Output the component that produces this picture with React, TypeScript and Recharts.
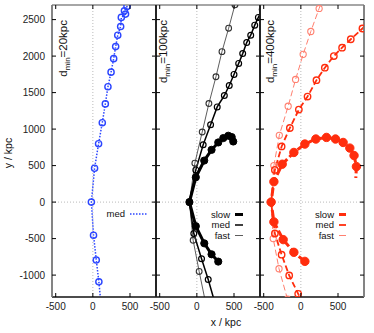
import { Line, LineChart, ReferenceLine, XAxis, YAxis } from 'recharts'

const xTicks = [-500, 0, 500]
const yTicks = [-1000, -500, 0, 500, 1000, 1500, 2000, 2500]
const xDomain = [-550, 850]
const yDomain = [-1300, 2700]

// d_min = 20 kpc
const p20MedX = [110, 81, 46, 9, -20, 23, 77, 127, 168, 203, 245, 280, 307, 335, 374, 383, 440, 425, 460, 490]
const p20MedY = [-1400, -1092, -794, -454, 0, 464, 799, 1088, 1345, 1580, 1780, 1965, 2130, 2286, 2405, 2530, 2575, 2620, 2681, 2760]

// d_min = 100 kpc
const p100SlowX = [288, 198, 100, -14, -100, -14, 99, 198, 288, 356, 423, 469, 490]
const p100SlowY = [-815, -715, -565, -330, 0, 340, 569, 716, 817, 877, 909, 891, 830]
const p100MedX = [240, 153, 63, -41, -100, -14, 85, 185, 274, 370, 436, 500, 563, 617, 671, 725, 779, 828, 880]
const p100MedY = [-1370, -1060, -776, -431, 0, 441, 785, 1060, 1304, 1460, 1597, 1749, 1900, 2034, 2185, 2286, 2424, 2530, 2640]
const p100FastX = [120, 31, -50, -100, -27, 72, 162, 257, 338, 428, 513, 600]
const p100FastY = [-1390, -950, -523, 0, 533, 960, 1350, 1717, 2061, 2382, 2703, 3010]

// d_min = 400 kpc
const p400SlowX = [54, -94, -238, -363, -400, -363, -251, -94, 54, 202, 345, 466, 569, 659, 716, 748, 740]
const p400SlowY = [-812, -688, -514, -271, 0, 280, 519, 680, 795, 864, 886, 864, 817, 740, 638, 486, 330]
const p400MedX = [85, -36, -157, -259, -350, -400, -350, -259, -148, -27, 90, 210, 323, 444, 555, 672, 829, 900]
const p400MedY = [-1500, -1257, -1005, -720, -430, 0, 441, 762, 1015, 1267, 1446, 1670, 1841, 2001, 2116, 2231, 2378, 2450]
const p400FastX = [-180, -294, -372, -400, -363, -290, -171, -71, 31, 134, 246, 360]
const p400FastY = [-1330, -913, -500, 0, 500, 915, 1313, 1680, 2024, 2337, 2653, 2960]

const pts = (xs: number[], ys: number[]) => xs.map((x, i) => ({ x, y: ys[i] }))

const BLUE = '#2b45ff'
const RED = '#ff2d0d'
const PINK = '#ff8070'
const FONT = '"Liberation Sans", Arial, sans-serif'

type Series = {
  name: string
  data: { x: number; y: number }[]
  color: string
  width: number
  dash?: string
  filled?: boolean
  r: number
  ms: number
  hideLast?: boolean
}

const BottomTick = (p: any) => (
  <g>
    <line x1={p.x} y1={p.y} x2={p.x} y2={p.y - 4} stroke="#000" />
    <text x={p.x} y={p.y + 13} textAnchor="middle" fontSize={10} fontFamily={FONT} fill="#222">
      {p.payload.value}
    </text>
  </g>
)
const TopTick = (p: any) => <line x1={p.x} y1={p.y} x2={p.x} y2={p.y + 4} stroke="#000" />
const LeftTick = (p: any) => <line x1={p.x} y1={p.y} x2={p.x + 4} y2={p.y} stroke="#000" />
const LeftTickLabel = (p: any) => (
  <g>
    <line x1={p.x} y1={p.y} x2={p.x + 4} y2={p.y} stroke="#000" />
    <text x={p.x - 7} y={p.y + 3.5} textAnchor="end" fontSize={10} fontFamily={FONT} fill="#222">
      {p.payload.value}
    </text>
  </g>
)
const RightTick = (p: any) => <line x1={p.x} y1={p.y} x2={p.x - 4} y2={p.y} stroke="#000" />

type PanelProps = {
  left: number
  width: number
  ml: number
  mr: number
  showY: boolean
  leftColor: string
  rightColor: string
  series: Series[]
}

function Panel({ left, width, ml, mr, showY, leftColor, rightColor, series }: PanelProps) {
  return (
    <div style={{ position: 'absolute', left, top: 0 }}>
      <LineChart width={width} height={333} margin={{ top: 4, right: mr, bottom: 0, left: ml }}>
        <XAxis xAxisId={0} type="number" dataKey="x" domain={xDomain} ticks={xTicks} allowDataOverflow interval={0}
          height={36} tickSize={0} tickMargin={0} tickLine={false} tick={BottomTick}
          axisLine={{ stroke: '#111', strokeWidth: 1.5 }} />
        <XAxis xAxisId="top" orientation="top" type="number" dataKey="x" domain={xDomain} ticks={xTicks} allowDataOverflow
          interval={0} height={1} tickSize={0} tickMargin={0} tickLine={false} tick={TopTick}
          axisLine={{ stroke: '#888', strokeWidth: 1.5 }} />
        <YAxis yAxisId={0} type="number" domain={yDomain} ticks={yTicks} allowDataOverflow interval={0}
          width={showY ? 52 : 1} tickSize={0} tickMargin={0} tickLine={false} tick={showY ? LeftTickLabel : LeftTick}
          axisLine={{ stroke: leftColor, strokeWidth: 1.8 }} />
        <YAxis yAxisId="right" orientation="right" type="number" domain={yDomain} ticks={yTicks} allowDataOverflow
          interval={0} width={1} tickSize={0} tickMargin={0} tickLine={false} tick={RightTick}
          axisLine={{ stroke: rightColor, strokeWidth: 1.8 }} />
        <ReferenceLine x={0} stroke="#aaa" strokeWidth={0.8} strokeDasharray="1 2" />
        <ReferenceLine y={0} stroke="#aaa" strokeWidth={0.8} strokeDasharray="1 2" />
        {series.map((s) => (
          <Line key={s.name} data={s.data} dataKey="y" type="linear" stroke={s.color} strokeWidth={s.width}
            strokeDasharray={s.dash} isAnimationActive={false}
            dot={(d: any) =>
              s.hideLast && d.index === s.data.length - 1 ? (
                <g key={`d${d.index}`} />
              ) : (
                <circle key={`d${d.index}`} cx={d.cx} cy={d.cy} r={s.r} fill={s.filled ? s.color : 'none'}
                  stroke={s.color} strokeWidth={s.ms} />
              )
            }
            activeDot={false} />
        ))}
      </LineChart>
    </div>
  )
}

const panel20: Series[] = [
  { name: 'med', data: pts(p20MedX, p20MedY), color: BLUE, width: 1.5, dash: '1.5 1.5', r: 3.1, ms: 1.4 },
]
const panel100: Series[] = [
  { name: 'fast', data: pts(p100FastX, p100FastY), color: '#333', width: 0.8, r: 2.9, ms: 1.1 },
  { name: 'med', data: pts(p100MedX, p100MedY), color: '#000', width: 1.5, r: 2.9, ms: 1.2 },
  { name: 'slow', data: pts(p100SlowX, p100SlowY), color: '#000', width: 3, r: 3.6, ms: 1, filled: true },
]
const panel400: Series[] = [
  { name: 'fast', data: pts(p400FastX, p400FastY), color: PINK, width: 1, dash: '6 3', r: 3.1, ms: 1.1 },
  { name: 'med', data: pts(p400MedX, p400MedY), color: RED, width: 1.8, dash: '6 3', r: 3.2, ms: 1.4 },
  { name: 'slow', data: pts(p400SlowX, p400SlowY), color: RED, width: 3, dash: '8 3', r: 4.2, ms: 1, filled: true, hideLast: true },
]

function PanelLabel({ x, d }: { x: number; d: string }) {
  return (
    <text transform={`translate(${x},20) rotate(-90)`} textAnchor="end" fontSize={11.5} fontFamily={FONT} fill="#111">
      d<tspan dy={2.5} fontSize={8}>min</tspan>
      <tspan dy={-2.5}>={d}kpc</tspan>
    </text>
  )
}

function LegendRow({ x, y, label, color, width, dash, len }: { x: number; y: number; label: string; color: string; width: number; dash?: string; len: number }) {
  return (
    <g>
      <text x={x} y={y + 3.3} textAnchor="end" fontSize={9.5} fontFamily={FONT} fill="#111">{label}</text>
      <line x1={x + 5} y1={y} x2={x + 5 + len} y2={y} stroke={color} strokeWidth={width} strokeDasharray={dash} />
    </g>
  )
}

export default function App() {
  return (
    <div style={{ position: 'absolute', left: 0, top: 0, width: 374, height: 333, overflow: 'hidden', background: '#fff' }}>
      <Panel left={0} width={177} ml={0} mr={20} showY leftColor="#777" rightColor="#222" series={panel20} />
      <Panel left={126} width={155} ml={29} mr={20} showY={false} leftColor="#222" rightColor="#222" series={panel100} />
      <Panel left={230} width={144} ml={29} mr={9} showY={false} leftColor="#222" rightColor="#777" series={panel400} />
      <svg width={374} height={333} style={{ position: 'absolute', left: 0, top: 0, pointerEvents: 'none' }}>
        <text transform="translate(12,153) rotate(-90)" textAnchor="middle" fontSize={10.5} fontFamily={FONT} fill="#111">y / kpc</text>
        <text x={226} y={326} textAnchor="middle" fontSize={10.5} fontFamily={FONT} fill="#111">x / kpc</text>
        <PanelLabel x={67} d="20" />
        <PanelLabel x={167} d="100" />
        <PanelLabel x={274} d="400" />
        <LegendRow x={125} y={214} label="med" color={BLUE} width={1.5} dash="1.5 1.5" len={18} />
        <LegendRow x={230} y={214.5} label="slow" color="#000" width={3} len={8} />
        <LegendRow x={230} y={225} label="med" color="#000" width={1.5} len={8} />
        <LegendRow x={230} y={235.5} label="fast" color="#333" width={0.8} len={8} />
        <LegendRow x={334} y={214.5} label="slow" color={RED} width={3} len={7} />
        <LegendRow x={334} y={225} label="med" color={RED} width={1.8} len={7} />
        <LegendRow x={334} y={235.5} label="fast" color={PINK} width={1} len={7} />
      </svg>
    </div>
  )
}
